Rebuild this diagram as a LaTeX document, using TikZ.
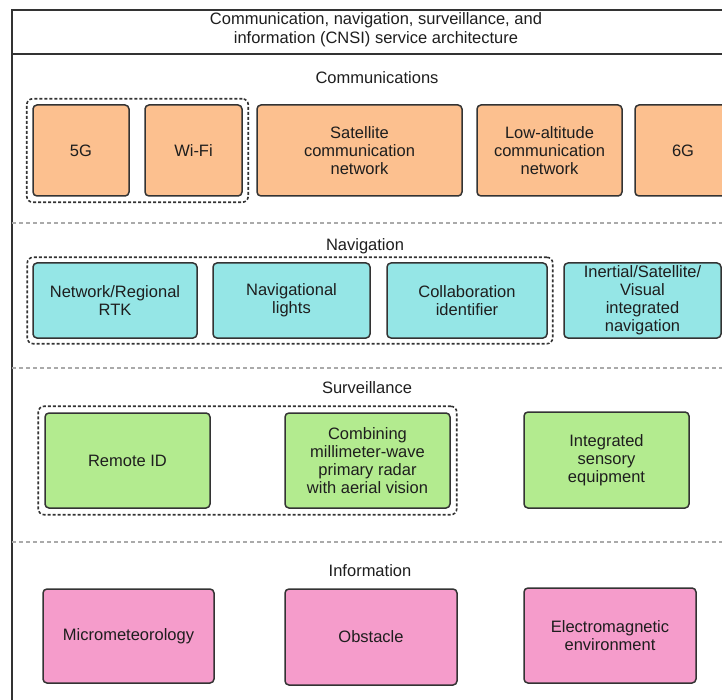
\documentclass[tikz,border=0pt]{standalone}
\usepackage{fontspec}
\setmainfont{Liberation Sans}
\usetikzlibrary{fit}
\definecolor{orangefill}{HTML}{FCC08F}
\definecolor{cyanfill}{HTML}{95E6E6}
\definecolor{greenfill}{HTML}{B3EB8F}
\definecolor{pinkfill}{HTML}{F59CCB}
\definecolor{edgegray}{HTML}{333333}
\definecolor{sepgray}{HTML}{AAAAAA}
\definecolor{txt}{HTML}{1E1E1E}
\tikzset{
  box/.style={draw=edgegray, line width=1.5pt, rounded corners=4pt, align=center,
    text=txt, font=\fontsize{16.5}{18}\selectfont, inner sep=0pt},
  grp/.style={draw=edgegray, line width=1.6pt, dash pattern=on 3pt off 2pt,
    rounded corners=6pt, inner sep=5.5pt},
  sep/.style={draw=sepgray, line width=1.2pt, dash pattern=on 4pt off 3pt},
  lbl/.style={text=txt, font=\fontsize{16.5}{19}\selectfont, align=center, inner sep=0pt},
  frame/.style={draw=edgegray, line width=1.5pt}
}
\begin{document}
\begin{tikzpicture}[x=1pt,y=-1pt]
\useasboundingbox (0,0) rectangle (722,700);
\clip (0,0) rectangle (722,700);
\fill[white] (0,0) rectangle (722,700);
% frame
\draw[frame] (12,760) -- (12,10) -- (740,10);
\draw[frame] (12,54) -- (740,54);
\node[lbl] (title) at (376,30) {Communication, navigation, surveillance, and\\information (CNSI) service architecture};
% separators
\coordinate (s1a) at (12,223); \coordinate (s1b) at (722,223);
\coordinate (s2a) at (12,368); \coordinate (s2b) at (722,368);
\coordinate (s3a) at (12,542); \coordinate (s3b) at (722,542);
\draw[sep] (s1a) -- (s1b);
\draw[sep] (s2a) -- (s2b);
\draw[sep] (s3a) -- (s3b);
% Communications
\node[lbl] (comm) at (377,78) {Communications};
\node[box, fill=orangefill, minimum width=96pt, minimum height=91pt] (g5) at (81,150.5) {5G};
\node[box, fill=orangefill, minimum width=97pt, minimum height=91pt] (wifi) at (193.5,150.5) {Wi-Fi};
\node[box, fill=orangefill, minimum width=205pt, minimum height=91pt] (sat) at (359.5,150.5) {Satellite\\communication\\network};
\node[box, fill=orangefill, minimum width=145pt, minimum height=91pt] (low) at (549.5,150.5) {Low-altitude\\communication\\network};
\node[box, fill=orangefill, minimum width=96pt, minimum height=91pt] (g6) at (683,150.5) {6G};
\node[grp, fit=(g5)(wifi)] (cgrp) {};
% Navigation
\node[lbl] (nav) at (365,246) {Navigation};
\node[box, fill=cyanfill, minimum width=164pt, minimum height=75pt] (rtk) at (115,300.5) {Network/Regional\\RTK};
\node[box, fill=cyanfill, minimum width=157pt, minimum height=75pt] (lights) at (291.5,300.5) {Navigational\\lights};
\node[box, fill=cyanfill, minimum width=160pt, minimum height=75pt] (collab) at (467,300.5) {Collaboration\\identifier};
\node[box, fill=cyanfill, minimum width=157pt, minimum height=75pt] (inert) at (642.5,300.5) {Inertial/Satellite/\\Visual\\integrated\\navigation};
\node[grp, fit=(rtk)(collab), inner sep=5pt] (ngrp) {};
% Surveillance
\node[lbl] (surv) at (367,388) {Surveillance};
\node[box, fill=greenfill, minimum width=165pt, minimum height=95pt] (rid) at (127.5,460.5) {Remote ID};
\node[box, fill=greenfill, minimum width=165pt, minimum height=95pt] (radar) at (367.5,460.5) {Combining\\millimeter-wave\\primary radar\\with aerial vision};
\node[box, fill=greenfill, minimum width=165pt, minimum height=96pt] (sens) at (606.5,460) {Integrated\\sensory\\equipment};
\node[grp, fit=(rid)(radar), inner sep=6pt] (sgrp) {};
% Information
\node[lbl] (info) at (370,571) {Information};
\node[box, fill=pinkfill, minimum width=171pt, minimum height=94pt] (micro) at (128.5,636) {Micrometeorology};
\node[box, fill=pinkfill, minimum width=172pt, minimum height=96pt] (obst) at (371,637) {Obstacle};
\node[box, fill=pinkfill, minimum width=172pt, minimum height=95pt] (em) at (610,635.5) {Electromagnetic\\environment};
\end{tikzpicture}
\end{document}
